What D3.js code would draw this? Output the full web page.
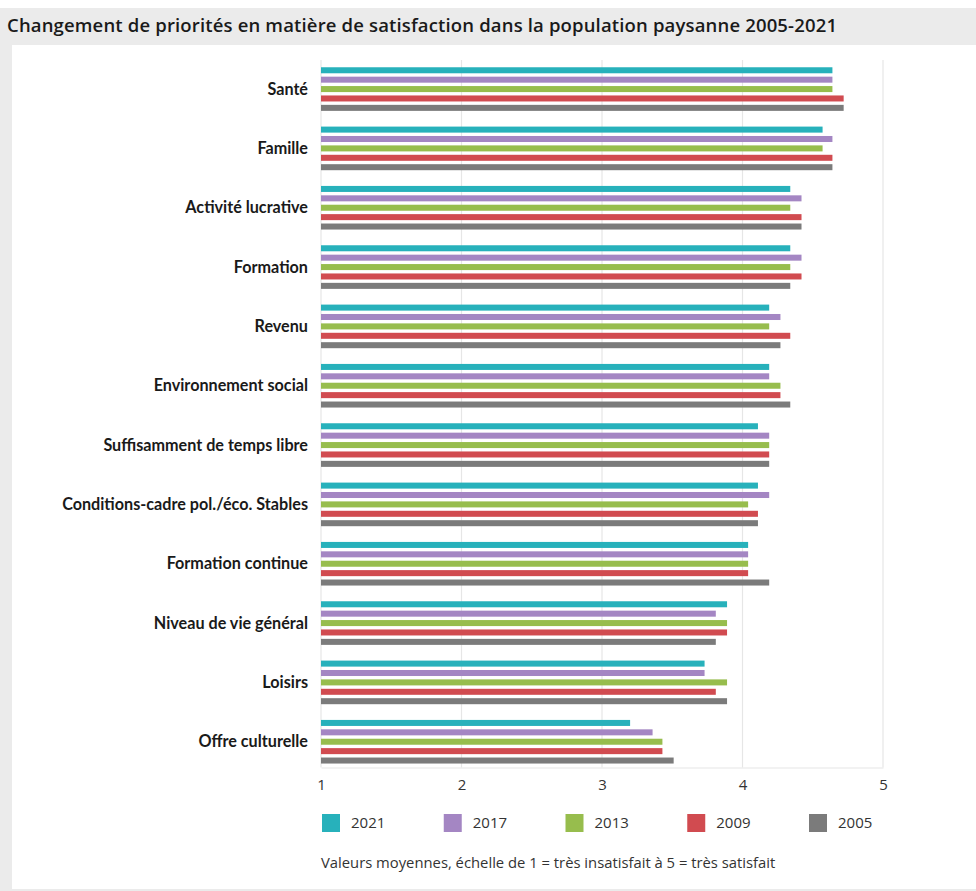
<!DOCTYPE html>
<html><head><meta charset="utf-8">
<script src="https://cdn.jsdelivr.net/npm/d3@7"></script>
<style>
html,body{margin:0;padding:0;background:#fff;}
svg{display:block;}
</style></head>
<body>
<div id="chart"></div>
<script>
const title = "Changement de priorités en matière de satisfaction dans la population paysanne 2005-2021";
const categories = ["Santé","Famille","Activité lucrative","Formation","Revenu","Environnement social","Suffisamment de temps libre","Conditions-cadre pol./éco. Stables","Formation continue","Niveau de vie général","Loisirs","Offre culturelle"];
const years = ["2021","2017","2013","2009","2005"];
const v2021 = [4.64,4.57,4.34,4.34,4.19,4.19,4.11,4.11,4.04,3.89,3.73,3.20];
const v2017 = [4.64,4.64,4.42,4.42,4.27,4.19,4.19,4.19,4.04,3.81,3.73,3.36];
const v2013 = [4.64,4.57,4.34,4.34,4.19,4.27,4.19,4.04,4.04,3.89,3.89,3.43];
const v2009 = [4.72,4.64,4.42,4.42,4.34,4.27,4.19,4.11,4.04,3.89,3.81,3.43];
const v2005 = [4.72,4.64,4.42,4.34,4.27,4.34,4.19,4.11,4.19,3.81,3.89,3.51];
const tickValues = [1,2,3,4,5];
const footnote = "Valeurs moyennes, échelle de 1 = très insatisfait à 5 = très satisfait";
const colors = ["#27b1bb","#a486c3","#97bd4d","#d14b50","#7b7b7b"];

const seriesValues = [v2021, v2017, v2013, v2009, v2005];
const data = categories.map((c, i) => ({cat: c, vals: years.map((y, j) => ({year: y, value: seriesValues[j][i]}))}));

const W = 976, H = 891;
const font = "'Open Sans','Noto Sans',sans-serif";
const labelFont = "Lato,'Open Sans',sans-serif";

const svg = d3.select("#chart").append("svg").attr("width", W).attr("height", H);

function measure(txt, family, weight, size) {
  const t = svg.append("text").attr("x",-2000).attr("y",-2000)
    .attr("font-family",family).attr("font-weight",weight)
    .attr("font-size",size).text(txt);
  const w = t.node().getComputedTextLength();
  t.remove();
  return w;
}

// frame
svg.append("rect").attr("x",0).attr("y",8).attr("width",W).attr("height",H-8).attr("fill","#ebebeb");
svg.append("rect").attr("x",12).attr("y",45).attr("width",W-12).attr("height",H-47).attr("fill","#ffffff");

const titleSize = 18.5;
const tw = measure(title, font, 600, titleSize);
const titleLs = tw > 0 ? (830 - tw) / (title.length - 1) : 0;
svg.append("text").attr("x",7).attr("y",32)
  .attr("font-family",font).attr("font-weight",600)
  .attr("font-size",titleSize).attr("letter-spacing", Math.max(-0.6, Math.min(1, titleLs)))
  .attr("fill","#1a1a1a").text(title);

const x = d3.scaleLinear().domain([1,5]).range([321,883]);
const y0 = d3.scaleBand().domain(categories).range([59.4, 771.4]).paddingInner(0.265).paddingOuter(0.1325);
const y1 = d3.scaleBand().domain(years).range([0, y0.bandwidth()]).paddingInner(0.36).paddingOuter(0);

const axisY = 767.5;

// gridlines
svg.append("g").selectAll("line").data(tickValues).join("line")
  .attr("x1", d => x(d)).attr("x2", d => x(d))
  .attr("y1", 60).attr("y2", axisY)
  .attr("stroke", "#e6e6e6").attr("stroke-width", 1.2);

// axis
const axis = d3.axisBottom(x).tickValues(tickValues).tickFormat(d3.format("d")).tickSize(0).tickPadding(12);
const gAxis = svg.append("g").attr("transform", `translate(0,${axisY})`).call(axis);
gAxis.select(".domain").attr("stroke","#e6e6e6").attr("stroke-width",1.2);
gAxis.selectAll("text").attr("font-family",font).attr("font-size",15).attr("fill","#333");

// bars
const groups = svg.append("g").selectAll("g").data(data).join("g")
  .attr("transform", d => `translate(0,${y0(d.cat)})`);
groups.selectAll("rect").data(d => d.vals).join("rect")
  .attr("x", x(1)).attr("y", d => y1(d.year))
  .attr("width", d => x(d.value) - x(1)).attr("height", y1.bandwidth())
  .attr("fill", (d, i) => colors[i]);

// category labels
const longest = "Conditions-cadre pol./éco. Stables";
const lw = measure(longest, labelFont, 700, 16);
const labelSize = lw > 0 ? Math.max(14.5, Math.min(17, 16 * 246 / lw)) : 16;
svg.append("g").selectAll("text").data(categories).join("text")
  .attr("x", 308).attr("y", d => y0(d) + y0.bandwidth()/2)
  .attr("dy","0.35em").attr("text-anchor","end")
  .attr("font-family",labelFont).attr("font-weight",700)
  .attr("font-size",labelSize)
  .attr("fill","#1a1a1a").text(d => d);

// legend
const legendX = d3.scalePoint().domain(years).range([322, 809]);
const lg = svg.append("g").selectAll("g").data(years).join("g")
  .attr("transform", d => `translate(${legendX(d)},814)`);
lg.append("rect").attr("width",18).attr("height",18).attr("fill",(d,i)=>colors[i]);
lg.append("text").attr("x",29).attr("y",9).attr("dy","0.35em")
  .attr("font-family",font).attr("font-size",15).attr("fill","#333").text(d => d);

svg.append("text").attr("x",321).attr("y",868)
  .attr("font-family",font).attr("font-size",14.8).attr("fill","#333").text(footnote);
</script>
</body></html>
